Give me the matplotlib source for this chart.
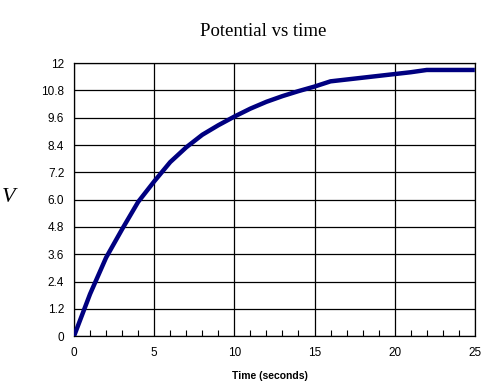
import matplotlib
matplotlib.use("Agg")
import matplotlib.pyplot as plt
from matplotlib.ticker import MultipleLocator

time_s = [0, 1, 2, 3, 4, 5, 6, 7, 8, 9, 10, 11, 12, 13, 14, 15, 16,
          17, 18, 19, 20, 21, 22, 23, 24, 25]
potential = [0, 1.85, 3.45, 4.7, 5.9, 6.8, 7.65, 8.3, 8.85, 9.27, 9.65, 10.0,
             10.3, 10.55, 10.77, 10.97, 11.2, 11.28, 11.36, 11.44, 11.52,
             11.6, 11.7, 11.7, 11.7, 11.7]
y_ticks = [0, 1.2, 2.4, 3.6, 4.8, 6.0, 7.2, 8.4, 9.6, 10.8, 12]
y_tick_labels = ["0", "1.2", "2.4", "3.6", "4.8", "6.0", "7.2", "8.4", "9.6", "10.8", "12"]
x_ticks = [0, 5, 10, 15, 20, 25]

fig = plt.figure(figsize=(4.87, 3.85), dpi=100)
ax = fig.add_axes([0.152, 0.127, 0.823, 0.709])

ax.plot(time_s, potential, color="#000080", lw=3.2, solid_capstyle="butt", zorder=3)

ax.set_xlim(0, 25)
ax.set_ylim(0, 12)
ax.set_xticks(x_ticks)
ax.set_yticks(y_ticks)
ax.set_yticklabels(y_tick_labels)
ax.xaxis.set_minor_locator(MultipleLocator(1))
ax.grid(True, which="major", color="black", lw=0.9)
ax.tick_params(axis="both", which="major", length=0, labelsize=8.5)
ax.tick_params(axis="x", which="major", pad=8)
ax.tick_params(axis="y", which="major", pad=7)
ax.tick_params(axis="x", which="minor", direction="in", length=4, width=0.8, color="black")
for lab in ax.get_xticklabels() + ax.get_yticklabels():
    lab.set_fontfamily("Liberation Sans")
for s in ax.spines.values():
    s.set_color("black")
    s.set_linewidth(0.9)

fig.text(0.54, 0.918, "Potential vs time", ha="center", va="center",
         fontsize=13.5, family="Liberation Serif")
fig.text(0.555, 0.023, "Time (seconds)", ha="center", va="center",
         fontsize=7.5, fontweight="bold", family="Liberation Sans")
fig.text(0.018, 0.488, "V", ha="center", va="center",
         fontsize=16, style="italic", family="Liberation Serif")

fig.savefig("out.png", dpi=100)
